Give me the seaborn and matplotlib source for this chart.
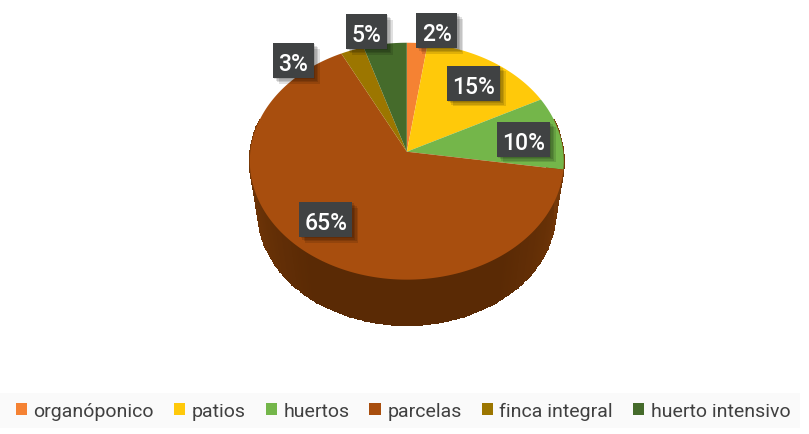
import numpy as np
import matplotlib
matplotlib.use("Agg")
import matplotlib.pyplot as plt
import matplotlib.patheffects as pe
from matplotlib.patches import Rectangle
from matplotlib.path import Path
from matplotlib.transforms import Transform, Affine2D
from matplotlib.colors import LinearSegmentedColormap
import seaborn as sns

categories = ["organóponico", "patios", "huertos", "parcelas", "finca integral", "huerto intensivo"]
values = [2.3, 15.1, 10.0, 65.2, 2.6, 4.8]
colors = ["#F58233", "#FFC90A", "#74B64A", "#A84E0E", "#9C7600", "#456B2B"]
label_xy = [(437, 31.5), (473.5, 84), (523.5, 140), (326, 220.5), (293.5, 61.5), (366.5, 32.5)]

W, H = 809, 435
sns.set_theme(style="white")
plt.rcParams["font.family"] = ["Roboto", "DejaVu Sans"]


class Tilt(Transform):
    """Perspective view of the unit-circle pie, in image pixels."""
    input_dims = output_dims = 2

    def __init__(self, cx=406.8, cy=152.7, a=156.5, b=117.7, d=0.0802, scale=1.0, drop=0.0):
        super().__init__()
        self.p = (cx, cy, a, b, d, scale, drop)

    def transform_non_affine(self, xy):
        cx, cy, a, b, d, s, drop = self.p
        xy = np.asarray(xy, float)
        w = 1 + d * xy[:, 1]
        return np.column_stack([cx + s * a * xy[:, 0] / w, cy + drop - s * b * xy[:, 1] / w])

    def transform_path_non_affine(self, path):
        up = Affine2D().scale(3000)
        polys = path.to_polygons(transform=up, closed_only=False)
        v = np.vstack(polys) / 3000
        return Path(self.transform_non_affine(v))


fig = plt.figure(figsize=(W / 100, H / 100), dpi=100, facecolor="white")
ax = fig.add_axes([0, 0, 1, 1])
wedges, _ = ax.pie(values, colors=colors, startangle=90, counterclock=False, radius=1,
                   wedgeprops=dict(linewidth=0))
top = Tilt()
for w_ in wedges:
    w_.set_transform(top + ax.transData)
    w_.set_zorder(3)
ax.set_aspect("auto")
ax.set_xlim(0, W)
ax.set_ylim(H, 0)
ax.axis("off")

# wall of the cylinder
bottom = Tilt(scale=0.945, drop=52.5)
th = np.deg2rad(np.linspace(-196, 16, 220))
ring = np.column_stack([np.cos(th), np.sin(th)])
p, q = top.transform_non_affine(ring), bottom.transform_non_affine(ring)
X = np.vstack([p[:, 0], q[:, 0]])
Y = np.vstack([p[:, 1], q[:, 1]])
shade = LinearSegmentedColormap.from_list("wall", ["#7C3C09", "#5A2A05", "#5A2A05", "#7C3C09"])
ax.pcolormesh(X, Y, np.linspace(0, 1, 219)[None, :], cmap=shade, shading="flat",
              edgecolors="face", linewidth=0.3, zorder=2)

# data labels
for v, (x, y) in zip(values, label_xy):
    bw = 53 if v >= 9.5 else 41
    box = Rectangle((x - bw / 2, y - 17.5), bw, 35, facecolor="#404243", edgecolor="none", zorder=5)
    soft = [pe.SimplePatchShadow(offset=(o, -o), shadow_rgbFace="#000000", alpha=0.12) for o in (4, 3, 2, 1)]
    box.set_path_effects(soft + [pe.Normal()])
    ax.add_patch(box)
    ax.text(x, y + 3.2, f"{v:.0f}%", color="white", fontsize=16.5, fontweight="medium",
            ha="center", va="center", zorder=6)

# legend band
ax.add_patch(Rectangle((0, 394), 800, 35, facecolor="#FAFAFA", edgecolor="none", zorder=1))
handles = [Rectangle((0, 0), 1, 1, facecolor=c, edgecolor="none") for c in colors]
leg = ax.legend(handles, categories, ncol=6, loc="center", bbox_to_anchor=(403 / W, 1 - 412 / H),
                frameon=False, fontsize=14, handlelength=0.59, handleheight=0.59, handletextpad=0.33,
                columnspacing=1.02, labelcolor="#404040", borderpad=0, borderaxespad=0)
leg.set_zorder(4)

fig.savefig("out.png", dpi=100)
